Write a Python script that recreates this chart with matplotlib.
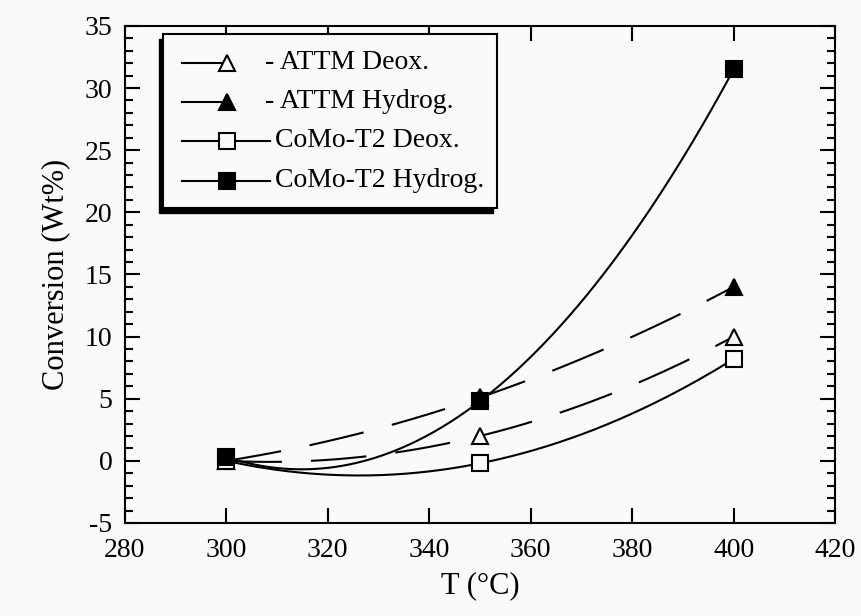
import matplotlib
matplotlib.use("Agg")
import matplotlib.pyplot as plt
from matplotlib.patches import Rectangle
from matplotlib.ticker import MultipleLocator
import numpy as np

plt.rcParams['font.family'] = ['Liberation Serif', 'DejaVu Serif']
plt.rcParams['lines.scale_dashes'] = False
plt.rcParams['axes.unicode_minus'] = False

# Data
temps = [300, 350, 400]
attm_deox = [0.0, 2.0, 10.0]
attm_hydrog = [0.0, 5.1, 14.0]
como_deox = [0.0, -0.2, 8.2]
como_hydrog = [0.3, 4.8, 31.5]

labels = ['- ATTM Deox.', '- ATTM Hydrog.', 'CoMo-T2 Deox.', 'CoMo-T2 Hydrog.']
x_ticks = [280, 300, 320, 340, 360, 380, 400, 420]
y_ticks = [-5, 0, 5, 10, 15, 20, 25, 30, 35]

bg = '#fafafa'
fig = plt.figure(figsize=(8.61, 6.16), dpi=100, facecolor=bg)
ax = fig.add_axes([0.145, 0.151, 0.825, 0.807], facecolor=bg)

series = [
    (attm_deox, '^', 'none', (0, (40, 21))),
    (attm_hydrog, '^', 'black', (0, (40, 21))),
    (como_deox, 's', 'none', '-'),
    (como_hydrog, 's', 'black', '-'),
]

# Smooth fitted curves (2nd order through the points)
xs = np.linspace(temps[0], temps[-1], 300)
for vals, marker, fc, ls in series:
    coef = np.polyfit(temps, vals, 2)
    ax.plot(xs, np.polyval(coef, xs), color='black', lw=1.5, ls=ls, zorder=2)

for vals, marker, fc, ls in series:
    ax.plot(temps, vals, ls='none', marker=marker, ms=11, mfc=fc if fc != 'none' else bg,
            mec='black', mew=1.5, zorder=3)

ax.set_xlim(280, 420)
ax.set_ylim(-5, 35)
ax.set_xticks(x_ticks)
ax.set_yticks(y_ticks)
ax.yaxis.set_minor_locator(MultipleLocator(1))
ax.tick_params(which='both', direction='in', top=True, right=True, width=1.5, labelsize=20)
ax.tick_params(which='major', length=11)
ax.tick_params(which='minor', length=6)
ax.tick_params(axis='x', pad=11)
ax.tick_params(axis='y', pad=9)
for s in ax.spines.values():
    s.set_linewidth(1.5)

ax.set_xlabel('T (°C)', fontsize=22, labelpad=6)
ax.set_ylabel('Conversion (Wt%)', fontsize=22, labelpad=10)

# Legend box with drop shadow (offset to lower left)
lx0, lx1, ly0, ly1 = 0.0535, 0.524, 0.634, 0.984
ax.add_patch(Rectangle((lx0 - 0.006, ly0 - 0.011), lx1 - lx0, ly1 - ly0, transform=ax.transAxes,
                       facecolor='black', edgecolor='black', zorder=5, clip_on=False))
ax.add_patch(Rectangle((lx0, ly0), lx1 - lx0, ly1 - ly0, transform=ax.transAxes,
                       facecolor=bg, edgecolor='black', lw=1.5, zorder=6, clip_on=False))

row_y = [0.9256, 0.8471, 0.7686, 0.6881]
for (vals, marker, fc, ls), lab, y in zip(series, labels, row_y):
    x_end = 0.144 if marker == '^' else 0.2042
    ax.plot([0.0803, x_end], [y, y], color='black', lw=1.5, transform=ax.transAxes,
            zorder=7, clip_on=False)
    ax.plot([0.144], [y], marker=marker, ms=11, mfc=fc if fc != 'none' else bg, mec='black',
            mew=1.5, transform=ax.transAxes, zorder=8, clip_on=False)
    tx = 0.197 if marker == '^' else 0.2113
    ax.text(tx, y, lab, transform=ax.transAxes, fontsize=20, va='center', ha='left', zorder=9)

fig.savefig('out.png', dpi=100, facecolor=bg)
